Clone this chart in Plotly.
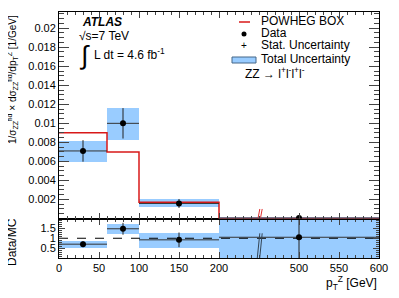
import plotly.graph_objects as go

# ---------------- data ----------------
bin_lo = [0, 60, 100, 200]
bin_hi = [60, 100, 200, 600]
bin_center = [30, 80, 150, 500]

data_val = [0.0071, 0.0100, 0.00158, 0.00004]
data_stat = [0.00113, 0.0016, 0.00047, 0.00004]
band_lo = [0.00596, 0.0083, 0.00116, 0.0]
band_hi = [0.0081, 0.0116, 0.0020, 0.0001]
powheg = [0.0090, 0.0070, 0.00172, 0.0]

ratio_val = [0.70, 1.48, 0.92, 1.05]
ratio_stat = [0.15, 0.30, 0.37, 1.6]
ratio_lo = [0.53, 1.23, 0.55, 0.03]
ratio_hi = [0.87, 1.77, 1.28, 2.1]

x_tick_gev = [0, 50, 100, 150, 200, 500, 550, 600]
x_tick_text = ["0", "50", "100", "150", "200", "500", "550", "600"]
main_ticks = [0.002, 0.004, 0.006, 0.008, 0.01, 0.012, 0.014, 0.016, 0.018, 0.02]
main_tick_text = ["0.002", "0.004", "0.006", "0.008", "0.01", "0.012", "0.014", "0.016", "0.018", "0.02"]
ratio_ticks = [0.5, 1, 1.5]
ratio_tick_text = ["0.5", "1", "1.5"]

BREAK_LO, BREAK_HI = 200, 500   # GeV range compressed on the axis
BREAK_SPAN = 100                # display units the compressed range occupies


def disp(x):
    """map GeV to display coordinate of the broken axis"""
    if x <= BREAK_LO:
        return x
    if x >= BREAK_HI:
        return x - (BREAK_HI - BREAK_LO) + BREAK_SPAN
    return BREAK_LO + (x - BREAK_LO) * BREAK_SPAN / (BREAK_HI - BREAK_LO)


BAND = "rgb(153,204,255)"
FONT = "Liberation Sans, Arial, sans-serif"

# page has an 8px body margin -> shrink the figure accordingly
OFF = 8
W, H = 399 - OFF, 298 - OFF
ML, MR, MT, MB = 59 - OFF, 20, 12 - OFF, 40
PW, PH = W - ML - MR, H - MT - MB


def px(x):
    return (x - 59) / PW


def py(y):
    return (258 - y) / PH


split = 39.5 / PH

dc = [disp(c) for c in bin_center]
dw = [disp(h) - disp(l) for l, h in zip(bin_lo, bin_hi)]
half = [w / 2 for w in dw]

fig = go.Figure()

# main panel band
fig.add_trace(go.Bar(x=dc, y=[h - l for l, h in zip(band_lo, band_hi)], base=band_lo,
                     width=dw, marker=dict(color=BAND, line=dict(width=0)),
                     xaxis="x2", yaxis="y2", showlegend=False))
# POWHEG step
edges = [disp(v) for v in bin_lo] + [disp(bin_hi[-1])]
fig.add_trace(go.Scatter(x=edges, y=powheg + [powheg[-1]], mode="lines",
                         line=dict(color="#d81818", width=1.5, shape="hv"),
                         xaxis="x2", yaxis="y2", showlegend=False))
# data
fig.add_trace(go.Scatter(x=dc, y=data_val, mode="markers",
                         marker=dict(color="black", size=6),
                         error_y=dict(type="data", array=data_stat, color="#222", thickness=1, width=0),
                         error_x=dict(type="data", array=half, color="#333", thickness=1, width=0),
                         xaxis="x2", yaxis="y2", showlegend=False))

# ratio band
fig.add_trace(go.Bar(x=dc, y=[h - l for l, h in zip(ratio_lo, ratio_hi)], base=ratio_lo,
                     width=dw, marker=dict(color=BAND, line=dict(width=0)),
                     xaxis="x", yaxis="y", showlegend=False))
# ratio = 1 line
fig.add_trace(go.Scatter(x=[disp(bin_lo[0]), disp(bin_hi[-1])], y=[1, 1], mode="lines",
                         line=dict(color="black", width=1, dash="dash"),
                         xaxis="x", yaxis="y", showlegend=False))
fig.add_trace(go.Scatter(x=dc, y=ratio_val, mode="markers",
                         marker=dict(color="black", size=6),
                         error_y=dict(type="data", array=ratio_stat, color="#222", thickness=1, width=0),
                         error_x=dict(type="data", array=half, color="#333", thickness=1, width=0),
                         xaxis="x", yaxis="y", showlegend=False))

axis_common = dict(showline=True, linecolor="black", linewidth=1, mirror="allticks",
                   ticks="inside", showgrid=False, zeroline=False,
                   tickfont=dict(family=FONT, size=11, color="black"))
xr = [disp(bin_lo[0]), disp(bin_hi[-1])]
fig.update_layout(
    width=W, height=H, margin=dict(l=ML, r=MR, t=MT, b=MB),
    paper_bgcolor="white", plot_bgcolor="white", barmode="overlay", bargap=0,
    xaxis=dict(domain=[0, 1], range=xr, anchor="y",
               tickmode="array", tickvals=[disp(v) for v in x_tick_gev], ticktext=x_tick_text,
               ticklen=6, minor=dict(tickmode="linear", tick0=0, dtick=10, ticklen=3, ticks="inside"),
               **axis_common),
    yaxis=dict(domain=[0, split], range=[0, 2], anchor="x",
               tickmode="array", tickvals=ratio_ticks, ticktext=ratio_tick_text,
               ticklen=6, minor=dict(tickmode="linear", tick0=0, dtick=0.1, ticklen=3, ticks="inside"),
               **axis_common),
    xaxis2=dict(domain=[0, 1], range=xr, anchor="y2", matches="x", showticklabels=False,
                tickmode="array", tickvals=[disp(v) for v in x_tick_gev],
                ticklen=6, minor=dict(tickmode="linear", tick0=0, dtick=10, ticklen=3, ticks="inside"),
                **axis_common),
    yaxis2=dict(domain=[split, 1], range=[0, 0.0217], anchor="x2",
                tickmode="array", tickvals=main_ticks, ticktext=main_tick_text,
                ticklen=10, minor=dict(tickmode="linear", tick0=0, dtick=0.0005, ticklen=5, ticks="inside"),
                **axis_common),
    font=dict(family=FONT, size=12, color="black"),
)

# axis break marks
brk = disp(BREAK_LO) + BREAK_SPAN / 2
for off in (0, 3):
    fig.add_shape(type="line", xref="x2", yref="y2",
                  x0=brk - 1.0 + off, x1=brk + 1.0 + off, y0=0.0001, y1=0.001,
                  line=dict(color="#e03030", width=1))
    fig.add_shape(type="line", xref="x", yref="y",
                  x0=brk - 2.5 + off, x1=brk + 1.0 + off, y0=-0.15, y1=1.25,
                  line=dict(color="#334455", width=1))

anns = []


def txt(x, y, s, size=12, xanchor="left", **kw):
    anns.append(dict(x=px(x), y=py(y), xref="paper", yref="paper", text=s, showarrow=False,
                     xanchor=xanchor, yanchor="middle", font=dict(family=FONT, size=size, color="black"), **kw))


txt(80, 22, "<b><i>ATLAS</i></b>")
txt(77, 36, "√s=7 TeV")
txt(84, 55, "∫", size=26, xanchor="center")
txt(92, 54, "L dt = 4.6 fb<sup>-1</sup>")

# legend
txt(259, 21, "POWHEG BOX")
txt(259, 33, "Data")
txt(259, 45, "Stat. Uncertainty")
txt(259, 59, "Total Uncertainty")
txt(243, 73, "ZZ → l<sup>+</sup>l<sup>-</sup>l<sup>+</sup>l<sup>-</sup>")
txt(244, 46, "+", size=10, xanchor="center")

fig.add_shape(type="line", xref="paper", yref="paper", x0=px(239), x1=px(250), y0=py(22), y1=py(22),
              line=dict(color="#d81818", width=1.5))
fig.add_shape(type="circle", xref="paper", yref="paper", x0=px(241.5), x1=px(246.5), y0=py(31.5), y1=py(36.5),
              fillcolor="black", line=dict(color="black", width=0))
fig.add_shape(type="rect", xref="paper", yref="paper", x0=px(232), x1=px(256), y0=py(63), y1=py(57),
              fillcolor=BAND, line=dict(color="#446688", width=1))

# axis titles
anns.append(dict(x=px(13), y=py(80), xref="paper", yref="paper", textangle=-90, showarrow=False,
                 text="1/σ<sub>ZZ</sub><sup>fid</sup> × dσ<sub>ZZ</sub><sup>fid</sup>/dp<sub>T</sub><sup>Z</sup> [1/GeV]",
                 xanchor="center", yanchor="middle", font=dict(family=FONT, size=10, color="black")))
anns.append(dict(x=px(12), y=py(242), xref="paper", yref="paper", textangle=-90, showarrow=False,
                 text="Data/MC", xanchor="center", yanchor="middle",
                 font=dict(family=FONT, size=12, color="black")))
txt(379, 283, "p<sub>T</sub><sup>Z</sup> [GeV]", xanchor="right")

fig.update_layout(annotations=anns)
fig.write_html("out.html")
